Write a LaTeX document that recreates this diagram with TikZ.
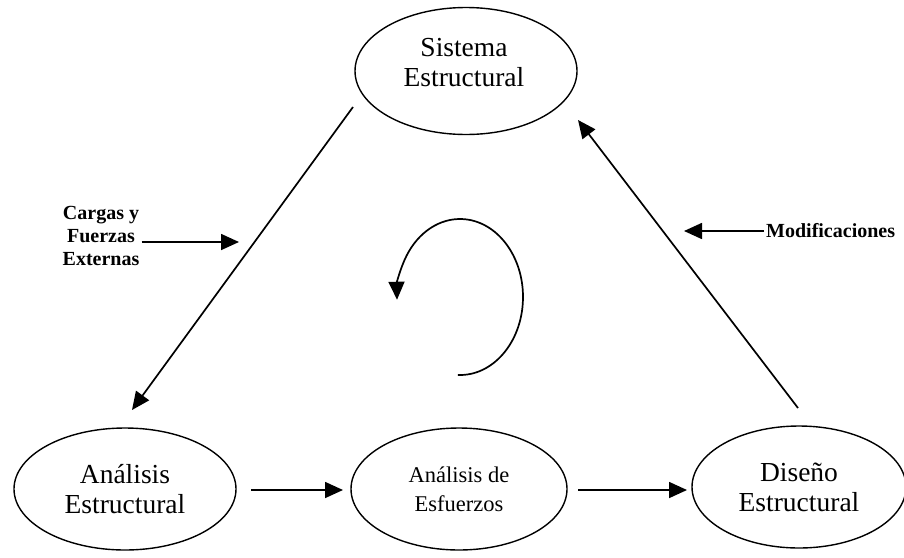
\documentclass[tikz,border=0pt]{standalone}
\usepackage{fontspec}
\setmainfont{Liberation Serif}
\usetikzlibrary{shapes.geometric,arrows.meta}
\begin{document}
\begin{tikzpicture}[x=1pt,y=-1pt,
  ell/.style={draw, ellipse, line width=1.4pt, inner sep=0pt, align=center,
    font=\fontsize{27.5}{30}\selectfont},
  ellsmall/.style={ell, font=\fontsize{22.5}{29}\selectfont},
  arr/.style={line width=1.7pt, -{Triangle[length=18pt,width=16pt]}},
  lbl/.style={font=\bfseries\fontsize{20}{23}\selectfont, align=center, inner sep=2pt}]
\useasboundingbox (0,0) rectangle (904,557);
% ellipses
\node[ell, minimum width=222pt, minimum height=127pt] (sis) at (466,71) {};
\node[ell, draw=none, align=center] (sist) at (464,63) {Sistema\\Estructural};
\node[ell, minimum width=222pt, minimum height=122pt] (ae) at (125,489) {Análisis\\Estructural};
\node[ellsmall, minimum width=216pt, minimum height=122pt] (aes) at (459,489) {Análisis de\\Esfuerzos};
\node[ell, minimum width=214pt, minimum height=122pt] (dis) at (799,487) {Diseño\\Estructural};
% labels
\node[lbl] (carg) at (101,236) {Cargas y\\Fuerzas\\Externas};
\node[lbl, anchor=west] (modif) at (764,231) {Modificaciones};
% connector end points
\coordinate (l1) at (353,107);
\coordinate (l2) at (132,410);
\coordinate (r1) at (798,408);
\coordinate (r2) at (578,120);
\coordinate (h1a) at (251,490);
\coordinate (h1b) at (343,490);
\coordinate (h2a) at (578,490);
\coordinate (h2b) at (687,490);
\coordinate (cargtip) at (239,242);
\coordinate (modtip) at (684,231);
\coordinate (rot) at (460,297);
% connectors
\draw[arr] (l1) -- (l2);
\draw[arr] (r1) -- (r2);
\draw[arr] (h1a) -- (h1b);
\draw[arr] (h2a) -- (h2b);
\draw[arr] (carg.east |- cargtip) -- (cargtip);
\draw[arr] (modif.west) -- (modtip);
% rotation arrow
\draw[arr] (rot) ++(92:63 and 78) arc[start angle=92, end angle=-182, x radius=63, y radius=78];
\end{tikzpicture}
\end{document}
